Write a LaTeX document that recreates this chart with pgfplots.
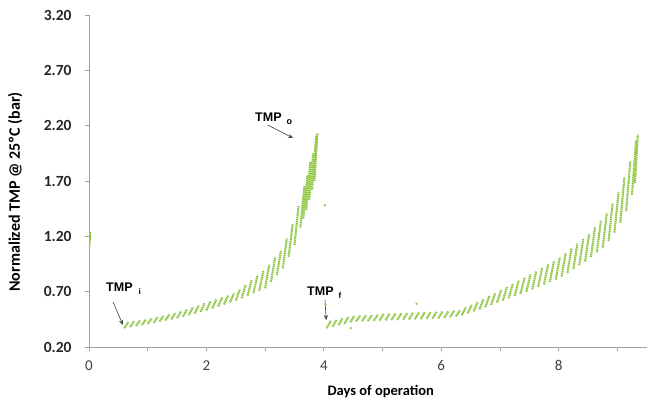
\documentclass[border=0pt]{standalone}
\usepackage{pgfplots}
\pgfplotsset{compat=1.18}
\usepackage{fontspec}
\setmainfont{Carlito}
\newfontfamily\arialfont{Liberation Sans}
\usetikzlibrary{arrows.meta}
\definecolor{tmpgreen}{RGB}{142,198,66}
\definecolor{axisgray}{RGB}{160,160,160}
\definecolor{ticktext}{RGB}{64,64,64}
\begin{document}
\begin{tikzpicture}
\useasboundingbox (-89bp,-52bp) rectangle (560bp,347bp);
\begin{axis}[
  at={(0,0)}, anchor=south west, scale only axis,
  width=557.7bp, height=332bp,
  xmin=0, xmax=9.5, ymin=0.2, ymax=3.2,
  axis x line=bottom, axis y line=left,
  axis line style={draw=axisgray, line width=0.8bp, -},
  xtick={0,1,2,3,4,5,6,7,8,9}, xticklabels={0,,2,,4,,6,,8,},
  ytick={0.2,0.7,1.2,1.7,2.2,2.7,3.2},
  yticklabels={0.20,0.70,1.20,1.70,2.20,2.70,3.20},
  tick align=outside, major tick length=4bp,
  tick style={draw=axisgray, line width=0.8bp},
  xticklabel style={font=\fontsize{15bp}{18bp}\selectfont, text=ticktext, yshift=-6bp},
  yticklabel style={font=\fontsize{15.5bp}{18bp}\selectfont\bfseries, text=black!85, xshift=-10bp},
  xlabel={Days of operation},
  ylabel={Normalized TMP @ 25ºC (bar)},
  xlabel style={at={(axis description cs:0.523,-0.1355)}, anchor=center, font=\fontsize{14.5bp}{16bp}\selectfont\bfseries},
  ylabel style={at={(axis description cs:-0.1326,0.467)}, anchor=center, font=\fontsize{16bp}{18bp}\selectfont\bfseries},
  clip=false,
  every axis plot/.append style={tmpgreen},
]
% run 1 (TMP_i -> TMP_o)
\addplot[line width=2.1bp, dash pattern=on 1.5bp off 0.6bp, unbounded coords=jump] coordinates {
(0.60,0.370)(0.67,0.425)(nan,nan)
(0.70,0.380)(0.77,0.433)(nan,nan)
(0.80,0.390)(0.87,0.440)(nan,nan)
(0.90,0.400)(0.97,0.448)(nan,nan)
(1.00,0.410)(1.07,0.458)(nan,nan)
(1.10,0.420)(1.17,0.470)(nan,nan)
(1.20,0.430)(1.27,0.482)(nan,nan)
(1.30,0.440)(1.37,0.494)(nan,nan)
(1.40,0.450)(1.47,0.506)(nan,nan)
(1.50,0.460)(1.57,0.523)(nan,nan)
(1.60,0.474)(1.67,0.541)(nan,nan)
(1.70,0.488)(1.77,0.559)(nan,nan)
(1.80,0.502)(1.87,0.577)(nan,nan)
(1.90,0.516)(1.97,0.595)(nan,nan)
(2.00,0.530)(2.07,0.613)(nan,nan)
(2.10,0.548)(2.17,0.631)(nan,nan)
(2.20,0.566)(2.27,0.649)(nan,nan)
(2.30,0.584)(2.37,0.667)(nan,nan)
(2.40,0.602)(2.47,0.685)(nan,nan)
(2.50,0.620)(2.57,0.719)(nan,nan)
(2.60,0.642)(2.67,0.761)(nan,nan)
(2.70,0.664)(2.77,0.803)(nan,nan)
(2.80,0.686)(2.87,0.845)(nan,nan)
(2.90,0.708)(2.97,0.887)(nan,nan)
(3.00,0.730)(3.07,0.944)(nan,nan)
(3.10,0.790)(3.17,1.008)(nan,nan)
(3.20,0.850)(3.27,1.071)(nan,nan)
(3.30,0.910)(3.37,1.181)(nan,nan)
(3.40,1.015)(3.47,1.311)(nan,nan)
(3.50,1.120)(3.57,1.476)(nan,nan)
(3.60,1.280)(3.67,1.656)(nan,nan)
(3.65,1.360)(3.72,1.750)(nan,nan)
(3.70,1.440)(3.77,1.875)(nan,nan)
(3.75,1.530)(3.82,1.950)(nan,nan)
(3.80,1.622)(3.87,2.110)(nan,nan)
(3.84,1.700)(3.89,2.130)
};
% run 2 (TMP_f -> end)
\addplot[line width=2.1bp, dash pattern=on 1.5bp off 0.6bp, unbounded coords=jump] coordinates {
(4.05,0.370)(4.12,0.438)(nan,nan)
(4.15,0.383)(4.22,0.449)(nan,nan)
(4.25,0.397)(4.32,0.460)(nan,nan)
(4.35,0.410)(4.42,0.471)(nan,nan)
(4.45,0.423)(4.52,0.481)(nan,nan)
(4.55,0.431)(4.62,0.483)(nan,nan)
(4.65,0.433)(4.72,0.486)(nan,nan)
(4.75,0.435)(4.82,0.488)(nan,nan)
(4.85,0.437)(4.92,0.491)(nan,nan)
(4.95,0.439)(5.02,0.500)(nan,nan)
(5.05,0.441)(5.12,0.501)(nan,nan)
(5.15,0.443)(5.22,0.503)(nan,nan)
(5.25,0.445)(5.32,0.504)(nan,nan)
(5.35,0.447)(5.42,0.505)(nan,nan)
(5.45,0.449)(5.52,0.510)(nan,nan)
(5.55,0.451)(5.62,0.512)(nan,nan)
(5.65,0.453)(5.72,0.514)(nan,nan)
(5.75,0.455)(5.82,0.516)(nan,nan)
(5.85,0.457)(5.92,0.518)(nan,nan)
(5.95,0.459)(6.02,0.520)(nan,nan)
(6.05,0.463)(6.12,0.522)(nan,nan)
(6.15,0.470)(6.22,0.527)(nan,nan)
(6.25,0.477)(6.32,0.532)(nan,nan)
(6.35,0.488)(6.42,0.558)(nan,nan)
(6.45,0.505)(6.52,0.581)(nan,nan)
(6.55,0.522)(6.62,0.606)(nan,nan)
(6.65,0.540)(6.72,0.633)(nan,nan)
(6.75,0.560)(6.82,0.661)(nan,nan)
(6.85,0.580)(6.92,0.688)(nan,nan)
(6.95,0.600)(7.02,0.716)(nan,nan)
(7.05,0.620)(7.12,0.744)(nan,nan)
(7.15,0.640)(7.22,0.772)(nan,nan)
(7.25,0.660)(7.32,0.800)(nan,nan)
(7.35,0.680)(7.42,0.828)(nan,nan)
(7.45,0.700)(7.52,0.856)(nan,nan)
(7.55,0.721)(7.62,0.886)(nan,nan)
(7.65,0.743)(7.72,0.916)(nan,nan)
(7.75,0.765)(7.82,0.946)(nan,nan)
(7.85,0.787)(7.92,0.976)(nan,nan)
(7.95,0.809)(8.02,1.008)(nan,nan)
(8.05,0.837)(8.12,1.050)(nan,nan)
(8.15,0.871)(8.22,1.092)(nan,nan)
(8.25,0.905)(8.32,1.134)(nan,nan)
(8.35,0.939)(8.42,1.176)(nan,nan)
(8.45,0.973)(8.52,1.222)(nan,nan)
(8.55,1.012)(8.62,1.282)(nan,nan)
(8.65,1.055)(8.72,1.342)(nan,nan)
(8.75,1.098)(8.82,1.408)(nan,nan)
(8.85,1.158)(8.92,1.498)(nan,nan)
(8.95,1.233)(9.02,1.597)(nan,nan)
(9.05,1.323)(9.12,1.732)(nan,nan)
(9.15,1.428)(9.22,1.879)(nan,nan)
(9.25,1.576)(9.32,2.070)(nan,nan)
(9.30,1.680)(9.35,2.120)
};
% stray readings
\addplot[line width=2.1bp, dash pattern=on 1.5bp off 0.6bp] coordinates {(0.02,1.12)(0.02,1.24)};
\addplot[only marks, mark=*, mark size=0.9bp] coordinates {
(4.02,1.48)(4.03,0.58)(4.46,0.37)(5.58,0.59)
};
% annotations
\node[anchor=west, font=\arialfont\bfseries\fontsize{12.5bp}{14bp}\selectfont, inner sep=0pt] at (axis cs:0.29,0.728) {TMP\hspace{6bp}\raisebox{-0.45ex}{\fontsize{8bp}{9bp}\selectfont i}};
\draw[black!75, line width=0.6bp, -{Stealth[length=5bp,width=4bp]}] (axis cs:0.409,0.607) -- (axis cs:0.579,0.399);
\node[anchor=west, font=\arialfont\bfseries\fontsize{12.5bp}{14bp}\selectfont, inner sep=0pt] at (axis cs:2.828,2.264) {TMP\hspace{5bp}\raisebox{-0.45ex}{\fontsize{9bp}{10bp}\selectfont o}};
\draw[black!75, line width=0.6bp, -{Stealth[length=5bp,width=4bp]}] (axis cs:3.049,2.205) -- (axis cs:3.475,2.088);
\node[anchor=west, font=\arialfont\bfseries\fontsize{12.5bp}{14bp}\selectfont, inner sep=0pt] at (axis cs:3.714,0.692) {TMP\hspace{5bp}\raisebox{-0.45ex}{\fontsize{8bp}{9bp}\selectfont f}};
\draw[black!75, line width=0.6bp, -{Stealth[length=5bp,width=4bp]}] (axis cs:4.02,0.625) -- (axis cs:4.04,0.444);
\end{axis}
\end{tikzpicture}
\end{document}
